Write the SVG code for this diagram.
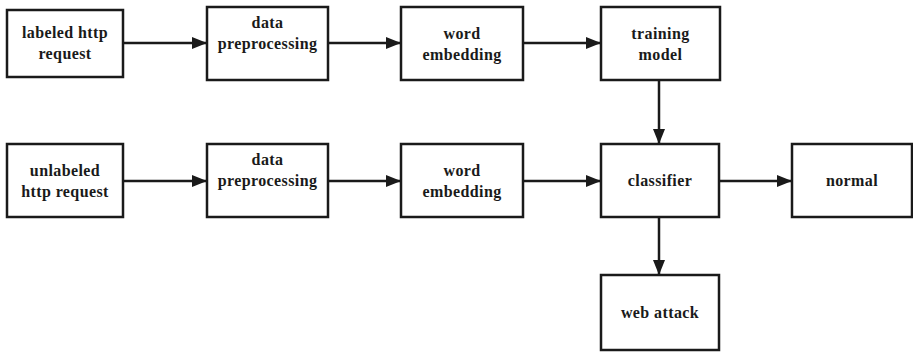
<svg xmlns="http://www.w3.org/2000/svg" width="913" height="352" viewBox="0 0 913 352">
  <style>
    .box { fill: #ffffff; stroke: #1a1a1a; stroke-width: 2.5; }
    .lbl { font-family: 'Liberation Serif', 'Times New Roman', Times, 'DejaVu Serif', serif; font-weight: bold; font-size: 16px; letter-spacing: 0.4px; fill: #1a1a1a; text-anchor: middle; }
    .edge { stroke: #1a1a1a; stroke-width: 2.5; fill: none; marker-end: url(#arrow); }
  </style>
  <defs>
    <marker id="arrow" markerUnits="userSpaceOnUse" markerWidth="16" markerHeight="12" refX="15" refY="6" orient="auto">
      <path d="M0,0 L15,6 L0,12 Z" fill="#1a1a1a"/>
    </marker>
  </defs>
  <rect width="913" height="352" fill="#ffffff"/>

  <g id="connectors">
    <line class="edge" x1="123" y1="43" x2="207" y2="43"/>
    <line class="edge" x1="328" y1="43" x2="401" y2="43"/>
    <line class="edge" x1="523" y1="43" x2="601" y2="43"/>
    <line class="edge" x1="659" y1="80" x2="659" y2="144"/>
    <line class="edge" x1="123" y1="181" x2="207" y2="181"/>
    <line class="edge" x1="328" y1="181" x2="401" y2="181"/>
    <line class="edge" x1="523" y1="181" x2="601" y2="181"/>
    <line class="edge" x1="719" y1="181" x2="792" y2="181"/>
    <line class="edge" x1="659" y1="217" x2="659" y2="275"/>
  </g>

  <g id="labeled-request">
    <rect class="box" x="7" y="10" width="116" height="67"/>
    <text class="lbl" x="65" y="38">labeled http</text>
    <text class="lbl" x="65" y="59">request</text>
  </g>
  <g id="preprocess-1">
    <rect class="box" x="207" y="7" width="121" height="73"/>
    <text class="lbl" x="267.500" y="28">data</text>
    <text class="lbl" x="267.500" y="49">preprocessing</text>
  </g>
  <g id="embedding-1">
    <rect class="box" x="401" y="7" width="122" height="73"/>
    <text class="lbl" x="462" y="39">word</text>
    <text class="lbl" x="462" y="60">embedding</text>
  </g>
  <g id="training-model">
    <rect class="box" x="601" y="7" width="119" height="73"/>
    <text class="lbl" x="660.500" y="39">training</text>
    <text class="lbl" x="660.500" y="60">model</text>
  </g>

  <g id="unlabeled-request">
    <rect class="box" x="7" y="144" width="116" height="73"/>
    <text class="lbl" x="65" y="176">unlabeled</text>
    <text class="lbl" x="65" y="197">http request</text>
  </g>
  <g id="preprocess-2">
    <rect class="box" x="207" y="144" width="121" height="73"/>
    <text class="lbl" x="267.500" y="165">data</text>
    <text class="lbl" x="267.500" y="186">preprocessing</text>
  </g>
  <g id="embedding-2">
    <rect class="box" x="401" y="144" width="122" height="73"/>
    <text class="lbl" x="462" y="176">word</text>
    <text class="lbl" x="462" y="197">embedding</text>
  </g>
  <g id="classifier">
    <rect class="box" x="601" y="144" width="118" height="73"/>
    <text class="lbl" x="660" y="186">classifier</text>
  </g>
  <g id="normal">
    <rect class="box" x="792" y="144" width="120" height="73"/>
    <text class="lbl" x="852" y="186">normal</text>
  </g>
  <g id="web-attack">
    <rect class="box" x="601" y="275" width="118" height="75"/>
    <text class="lbl" x="660" y="318">web attack</text>
  </g>
</svg>
